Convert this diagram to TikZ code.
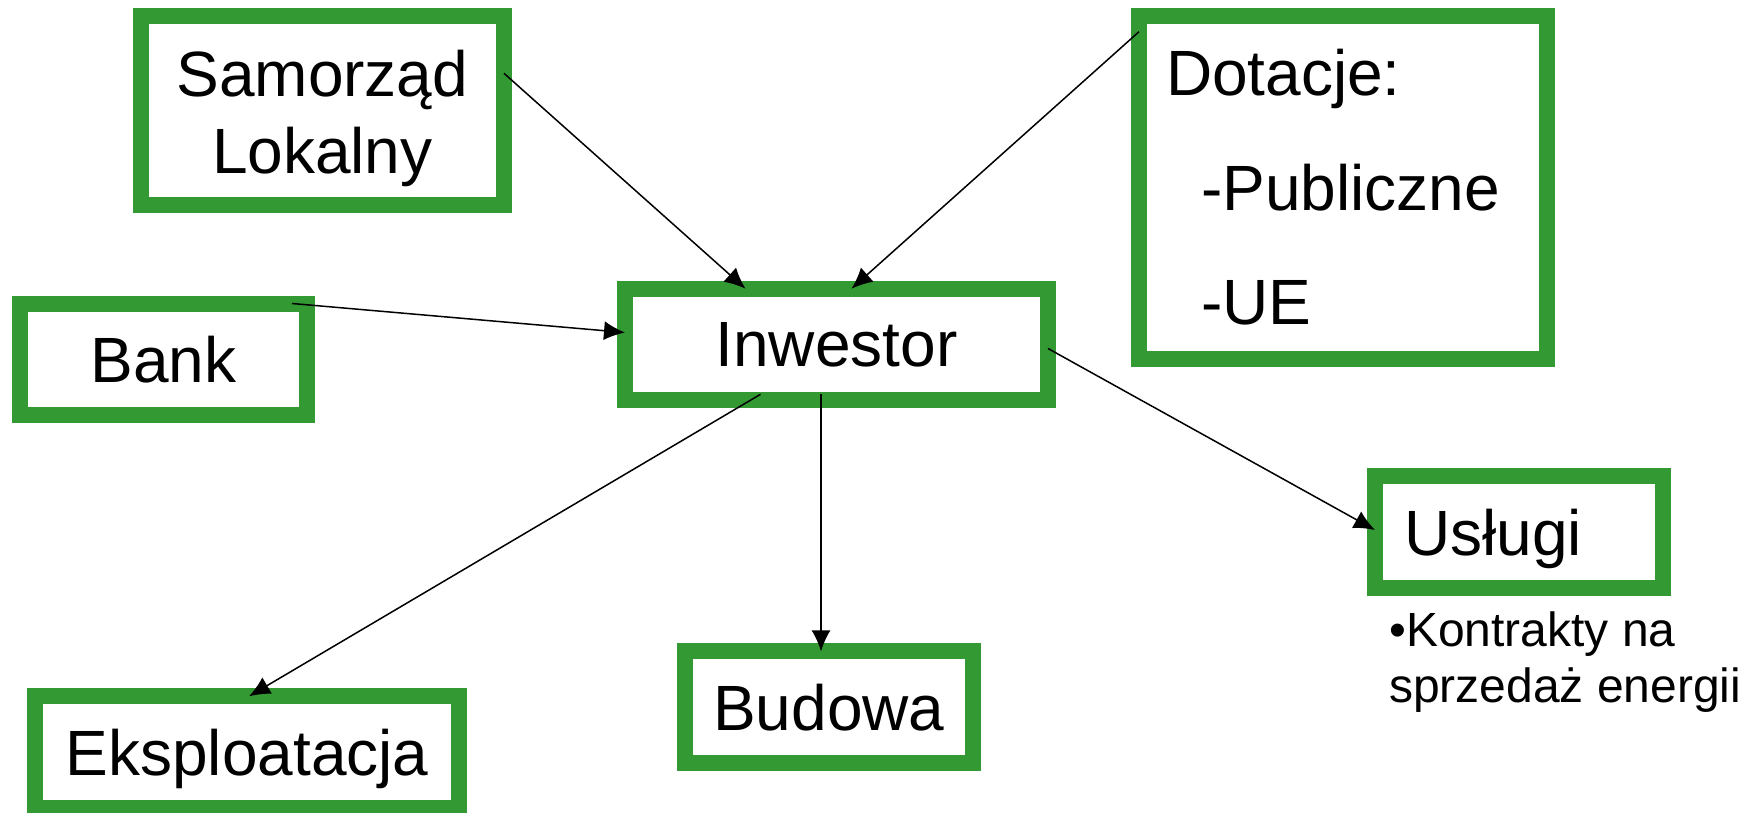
\documentclass[tikz,border=0pt]{standalone}
\usepackage{fontspec}
\setmainfont{Liberation Sans}
\usetikzlibrary{arrows.meta,calc}
\definecolor{boxgreen}{RGB}{51,153,51}

\begin{document}
\begin{tikzpicture}[x=1pt,y=1pt,yscale=-1,xscale=1,
  box/.style={draw=boxgreen,line width=16pt,outer sep=0pt,inner sep=0pt,text depth=0pt,font=\fontsize{64}{77}\selectfont},
  link/.style={line width=1.5pt,-{Latex[length=21pt,width=19pt]}}]
\useasboundingbox (0,0) rectangle (1754,813);

%Shape: Rectangle
\node [box,minimum width=363.3pt,minimum height=189pt,align=center,text depth=] (samo) at (322.3,110.8) {\rule{0pt}{62pt}Samorząd\\Lokalny};
%Shape: Rectangle
\node [box,minimum width=408pt,minimum height=342.4pt,inner xsep=27pt,text width=354pt,align=left,text depth=,font=\fontsize{64}{114.5}\selectfont] (dot) at (1343,187.5) {Dotacje:\\\hspace*{35pt}-Publiczne\\\hspace*{35pt}-UE};
%Shape: Rectangle
\node [box,minimum width=287pt,minimum height=111.5pt] (bank) at (163.5,359.25) {Bank};
%Shape: Rectangle
\node [box,minimum width=423pt,minimum height=111.6pt] (inw) at (836.5,344.5) {Inwestor};
%Shape: Rectangle
\node [box,minimum width=288pt,minimum height=112pt,inner xsep=29pt,text width=230pt,align=left] (usl) at (1519,532) {Usługi};
%Shape: Rectangle
\node [box,minimum width=287.6pt,minimum height=111.7pt] (bud) at (828.8,707.2) {Budowa};
%Shape: Rectangle
\node [box,minimum width=424pt,minimum height=112pt] (eks) at (247,752.3) {Eksploatacja};

% Text Node
\node [anchor=north west,inner sep=0pt,align=left,font=\fontsize{48}{55.5}\selectfont] (kontr) at (1389,611.7) {•Kontrakty na\\sprzedaż energii};

%Straight Lines
\draw [link] ($(samo.east)+(0,-37.5)$) -- ($(inw.north)+(-91,0)$);
%Straight Lines
\draw [link] ($(dot.north west)+(0,15.4)$) -- ($(inw.north)+(15,0)$);
%Straight Lines
\draw [link] ($(bank.north east)+(-15,0)$) -- ($(inw.west)+(0,-12)$);
%Straight Lines
\draw [link] ($(inw.south)+(-76,-6)$) -- ($(eks.north)+(2,0)$);
%Straight Lines
\draw [link] ($(inw.south)+(-15.5,-6)$) coordinate (b0) -- (b0 |- bud.north);
%Straight Lines
\draw [link] ($(inw.east)+(0,4)$) -- ($(usl.west)+(0,-2)$);

\end{tikzpicture}
\end{document}
